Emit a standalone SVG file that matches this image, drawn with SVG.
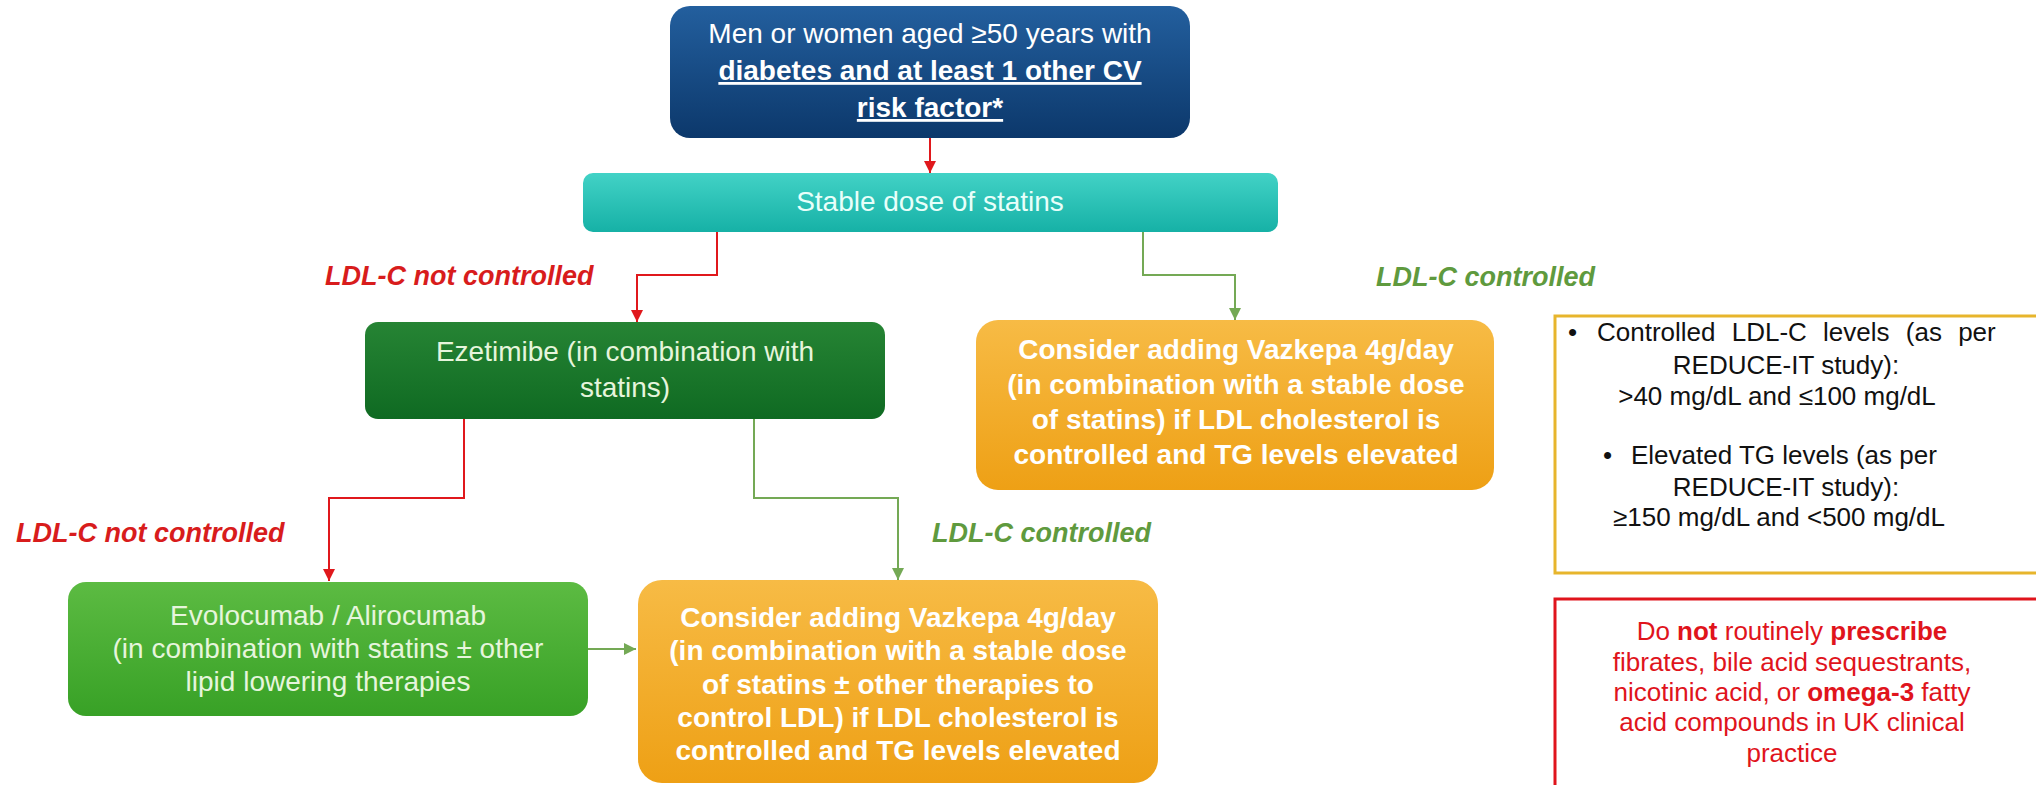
<svg xmlns="http://www.w3.org/2000/svg" width="2036" height="785" viewBox="0 0 2036 785">
<style>
.t{font-family:"Liberation Sans",Arial,sans-serif;font-size:28px;text-anchor:middle}
.p{font-size:26px}
.s{text-anchor:start}
.w{fill:#ffffff}
.g{fill:#e6f5dc}
.b{font-weight:bold}
.lbl{font-family:"Liberation Sans",Arial,sans-serif;font-size:27px;font-weight:bold;font-style:italic}
.red{stroke:#e0181c;stroke-width:2;fill:none}
.grn{stroke:#74a955;stroke-width:2;fill:none}
.k{fill:#111111}
.r{fill:#e0141c}
</style>
<defs>
<linearGradient id="gBlue" x1="0" y1="0" x2="0" y2="1"><stop offset="0" stop-color="#235f9e"/><stop offset="1" stop-color="#0c386b"/></linearGradient>
<linearGradient id="gTeal" x1="0" y1="0" x2="0" y2="1"><stop offset="0" stop-color="#42d2c6"/><stop offset="1" stop-color="#16b1a6"/></linearGradient>
<linearGradient id="gDark" x1="0" y1="0" x2="0" y2="1"><stop offset="0" stop-color="#268434"/><stop offset="1" stop-color="#0f6a22"/></linearGradient>
<linearGradient id="gLight" x1="0" y1="0" x2="0" y2="1"><stop offset="0" stop-color="#5cbb42"/><stop offset="1" stop-color="#38a126"/></linearGradient>
<linearGradient id="gOrange" x1="0" y1="0" x2="0" y2="1"><stop offset="0" stop-color="#f7bb45"/><stop offset="1" stop-color="#eea015"/></linearGradient>
<marker id="aR" markerUnits="userSpaceOnUse" markerWidth="14" markerHeight="14" refX="12" refY="7" orient="auto"><path d="M0,1 L12,7 L0,13 Z" fill="#e0181c"/></marker>
<marker id="aG" markerUnits="userSpaceOnUse" markerWidth="14" markerHeight="14" refX="12" refY="7" orient="auto"><path d="M0,1 L12,7 L0,13 Z" fill="#74a955"/></marker>
</defs>
<rect width="2036" height="785" fill="#ffffff"/>

<g id="connectors">
<path class="red" d="M930,138 V173" marker-end="url(#aR)"/>
<path class="red" d="M717,232 V275 H637 V322" marker-end="url(#aR)"/>
<path class="grn" d="M1143,232 V275 H1235 V320" marker-end="url(#aG)"/>
<path class="red" d="M464,419 V498 H329 V581" marker-end="url(#aR)"/>
<path class="grn" d="M754,419 V498 H898 V580" marker-end="url(#aG)"/>
<path class="grn" d="M588,649 H636" marker-end="url(#aG)"/>
<text class="lbl" x="325" y="285" fill="#d81c1c">LDL-C not controlled</text>
<text class="lbl" x="1376" y="286" fill="#5f9a3e">LDL-C controlled</text>
<text class="lbl" x="16" y="542" fill="#d81c1c">LDL-C not controlled</text>
<text class="lbl" x="932" y="542" fill="#5f9a3e">LDL-C controlled</text>
</g>

<g id="n-start">
<rect x="670" y="6" width="520" height="132" rx="20" fill="url(#gBlue)"/>
<text class="t w" x="930" y="43">Men or women aged ≥50 years with</text>
<text class="t w b" x="930" y="80" text-decoration="underline">diabetes and at least 1 other CV</text>
<text class="t w b" x="930" y="117" text-decoration="underline">risk factor*</text>
</g>

<g id="n-statins">
<rect x="583" y="173" width="695" height="59" rx="10" fill="url(#gTeal)"/>
<text class="t" x="930" y="211" fill="#e8fffa">Stable dose of statins</text>
</g>

<g id="n-ezetimibe">
<rect x="365" y="322" width="520" height="97" rx="13" fill="url(#gDark)"/>
<text class="t g" x="625" y="361">Ezetimibe (in combination with</text>
<text class="t g" x="625" y="397">statins)</text>
</g>

<g id="n-vazkepa1">
<rect x="976" y="320" width="518" height="170" rx="22" fill="url(#gOrange)"/>
<text class="t w b" x="1236" y="359">Consider adding Vazkepa 4g/day</text>
<text class="t w b" x="1236" y="394">(in combination with a stable dose</text>
<text class="t w b" x="1236" y="429">of statins) if LDL cholesterol is</text>
<text class="t w b" x="1236" y="464">controlled and TG levels elevated</text>
</g>

<g id="n-pcsk9">
<rect x="68" y="582" width="520" height="134" rx="18" fill="url(#gLight)"/>
<text class="t g" x="328" y="625">Evolocumab  / Alirocumab</text>
<text class="t g" x="328" y="658">(in combination with statins ± other</text>
<text class="t g" x="328" y="691">lipid lowering therapies</text>
</g>

<g id="n-vazkepa2">
<rect x="638" y="580" width="520" height="203" rx="24" fill="url(#gOrange)"/>
<text class="t w b" x="898" y="627">Consider adding Vazkepa 4g/day</text>
<text class="t w b" x="898" y="660">(in combination with a stable dose</text>
<text class="t w b" x="898" y="694">of statins ± other therapies to</text>
<text class="t w b" x="898" y="727">control LDL) if LDL cholesterol is</text>
<text class="t w b" x="898" y="760">controlled and TG levels elevated</text>
</g>

<g id="n-criteria">
<rect x="1555" y="316" width="500" height="257" fill="#ffffff" stroke="#e7b52c" stroke-width="3"/>
<text class="t p s k" x="1568" y="341">•</text>
<text class="t p s k" x="1597" y="341" word-spacing="9">Controlled LDL-C levels (as per</text>
<text class="t p k" x="1786" y="374">REDUCE-IT study):</text>
<text class="t p k" x="1777" y="405">&gt;40 mg/dL and ≤100 mg/dL</text>
<text class="t p s k" x="1603" y="464">•</text>
<text class="t p s k" x="1631" y="464">Elevated TG levels (as per</text>
<text class="t p k" x="1786" y="496">REDUCE-IT study):</text>
<text class="t p k" x="1779" y="526">≥150 mg/dL and &lt;500 mg/dL</text>
</g>

<g id="n-warning">
<rect x="1555" y="599" width="500" height="200" fill="#ffffff" stroke="#e0141c" stroke-width="3"/>
<text class="t p r" x="1792" y="640">Do <tspan class="b">not</tspan> routinely <tspan class="b">prescribe</tspan></text>
<text class="t p r" x="1792" y="671">fibrates, bile acid sequestrants,</text>
<text class="t p r" x="1792" y="701">nicotinic acid, or <tspan class="b">omega-3</tspan> fatty</text>
<text class="t p r" x="1792" y="731">acid compounds in UK clinical</text>
<text class="t p r" x="1792" y="762">practice</text>
</g>
</svg>
